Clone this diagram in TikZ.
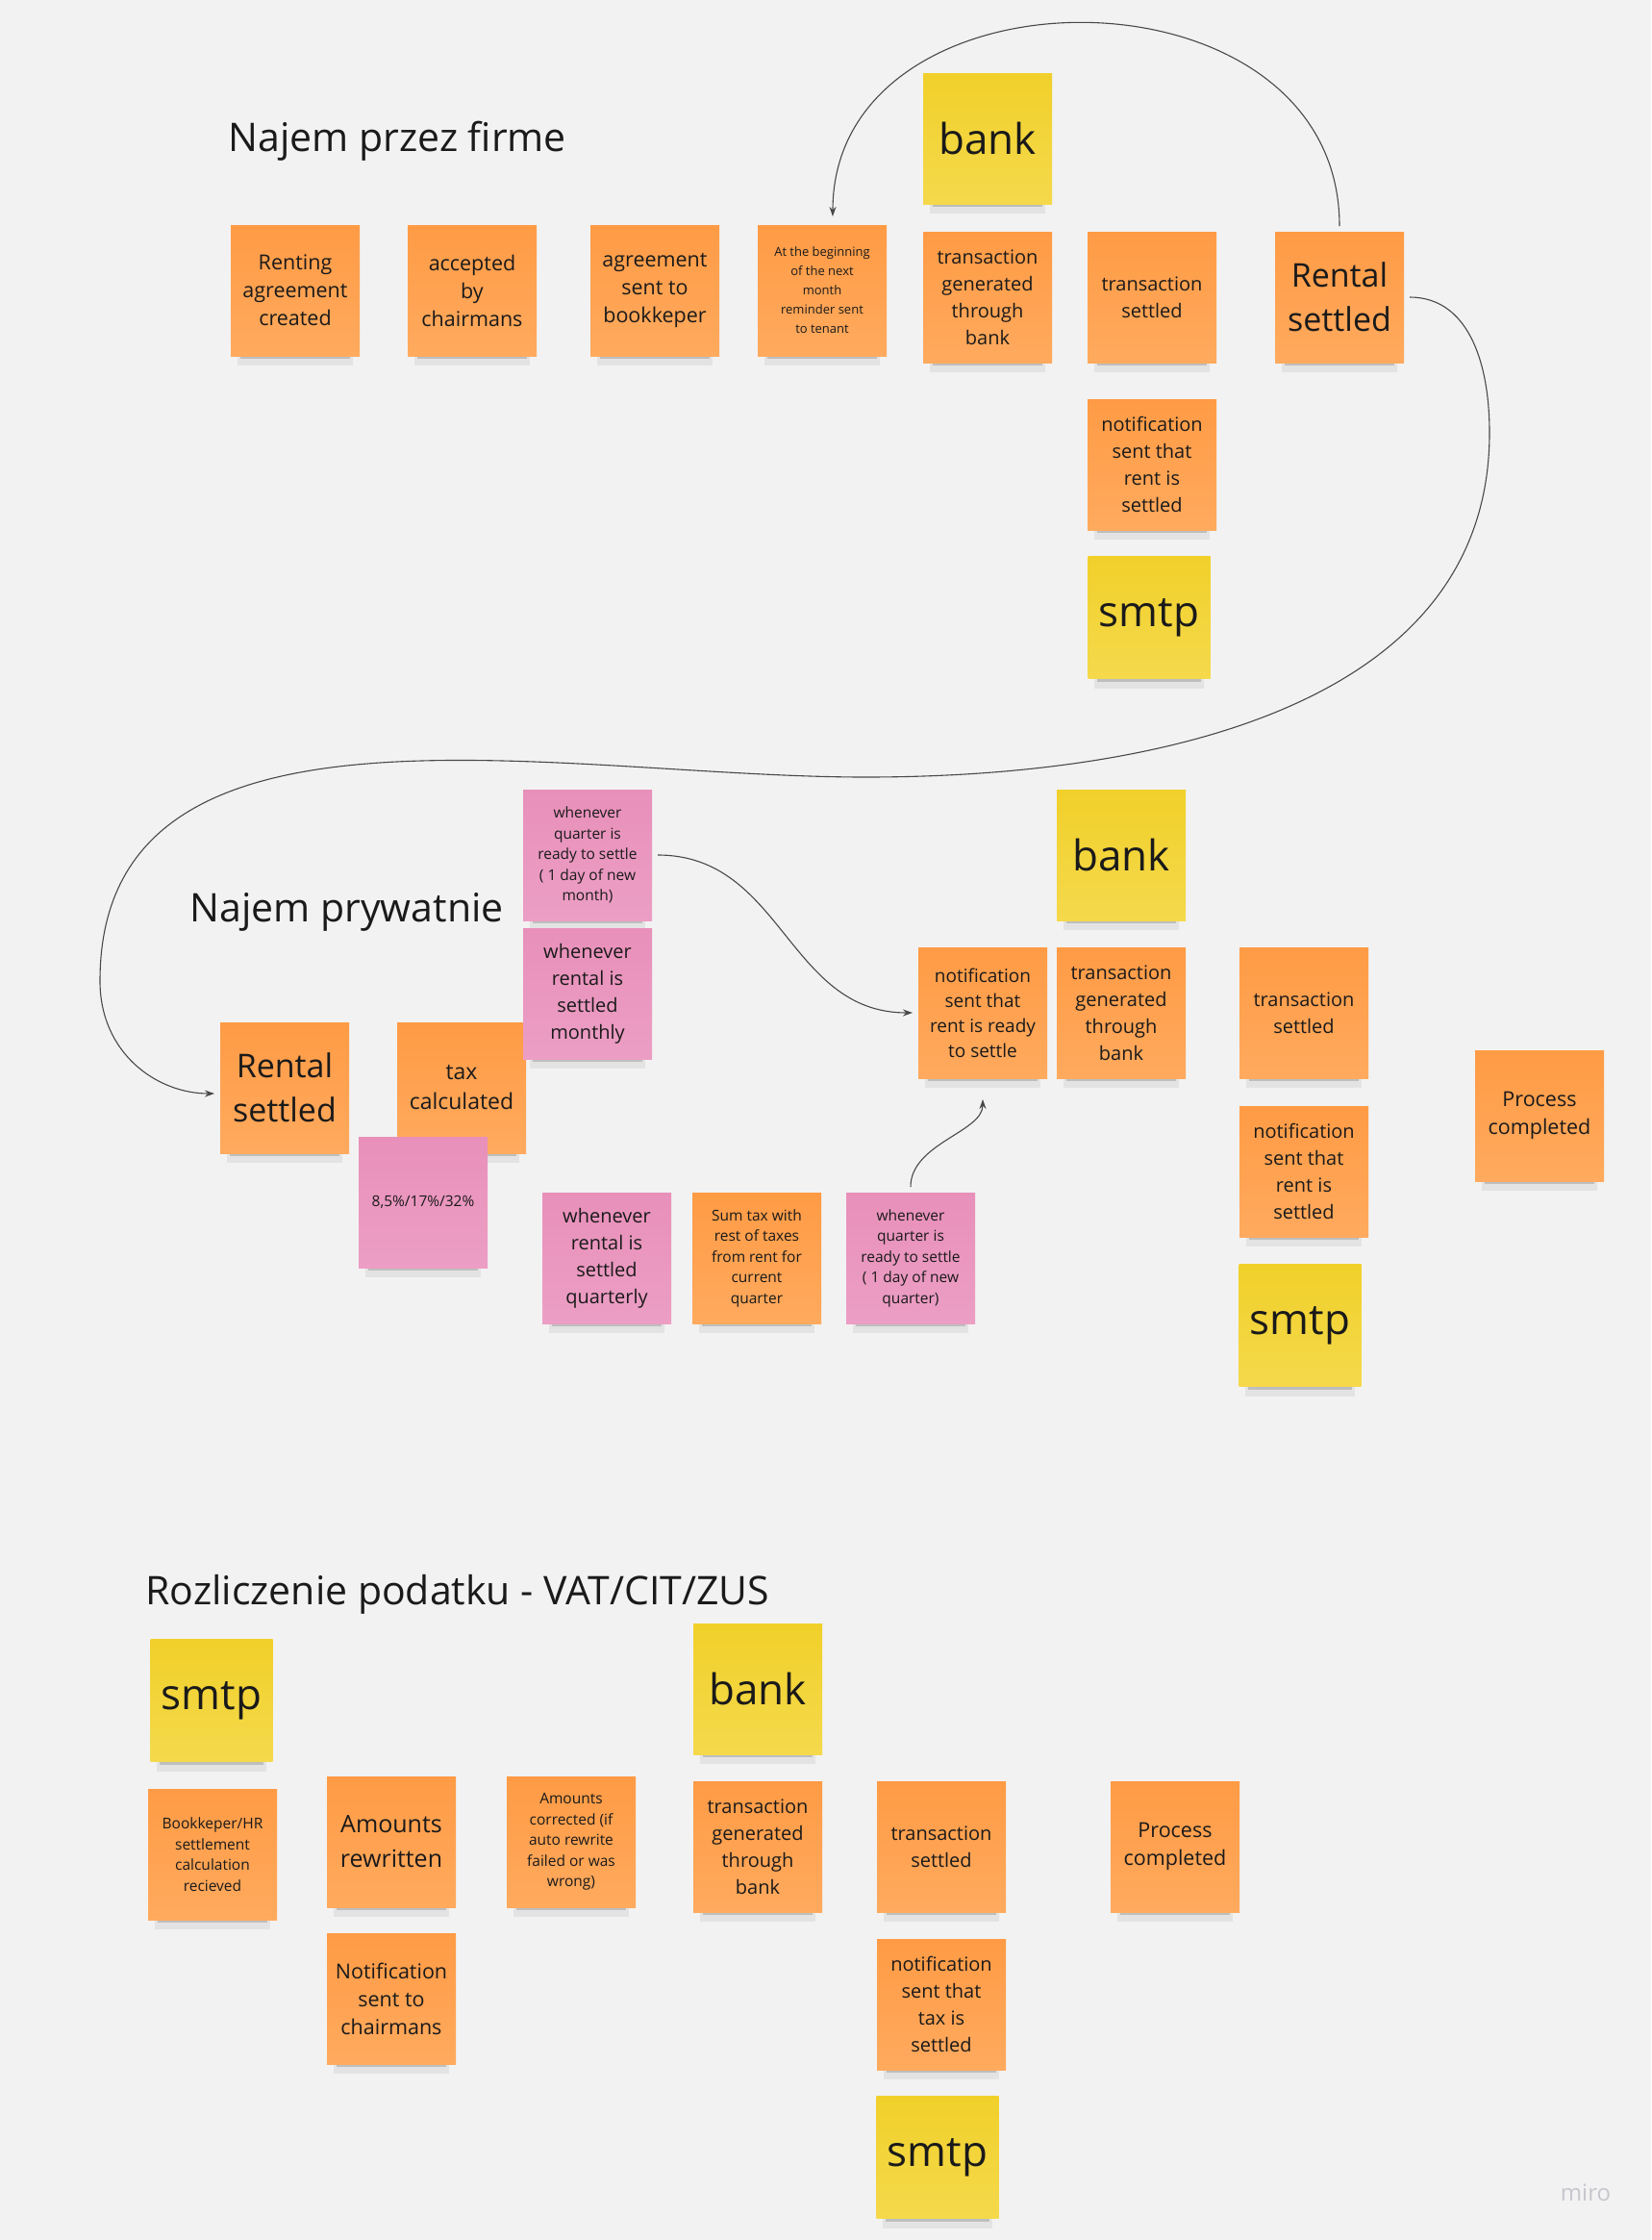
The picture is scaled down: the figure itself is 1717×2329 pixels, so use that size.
\documentclass[tikz,border=0pt]{standalone}
\usepackage{fontspec}
\setmainfont{Open Sans}
\usetikzlibrary{arrows.meta, shadows}
\definecolor{board}{HTML}{F2F2F2}
\definecolor{ink}{HTML}{1A1A1A}
\definecolor{orgtop}{HTML}{FF9B45}
\definecolor{orgbot}{HTML}{FFAA5E}
\definecolor{yeltop}{HTML}{F1D02A}
\definecolor{yelbot}{HTML}{F5D94C}
\definecolor{pnktop}{HTML}{E890BA}
\definecolor{pnkbot}{HTML}{EC9EC4}
\definecolor{wmark}{HTML}{C6C6CC}

\begin{document}
\begin{tikzpicture}[x=1pt, y=-1pt,
    note/.style={minimum width=134pt, minimum height=136pt, inner sep=0pt,
                 outer sep=6pt, align=center, text=ink,
                 font=\fontsize{20}{28}\selectfont,
                 general shadow={fill=black, opacity=.06, shadow scale=.9, shadow yshift=-19pt},
                 general shadow={fill=black, opacity=.16, shadow scale=.85, shadow yshift=-15pt}},
    orng/.style={note, top color=orgtop, bottom color=orgbot},
    yell/.style={note, top color=yeltop, bottom color=yelbot,
                 font=\fontsize{44}{50}\selectfont},
    pnk/.style={note, top color=pnktop, bottom color=pnkbot},
    sq/.style={minimum width=127pt, minimum height=127pt},
    fbig/.style={font=\fontsize{34}{46}\selectfont},
    famt/.style={font=\fontsize{25}{36}\selectfont},
    ftax/.style={font=\fontsize{23}{31}\selectfont},
    fmid/.style={font=\fontsize{21.5}{29}\selectfont},
    fnot/.style={font=\fontsize{19}{26}\selectfont},
    fsmall/.style={font=\fontsize{15.5}{21.5}\selectfont},
    ftiny/.style={font=\fontsize{13}{20}\selectfont},
    title/.style={anchor=base west, text=ink, font=\fontsize{41}{48}\selectfont},
    arr/.style={-{Stealth[length=10pt, width=7pt]}, line width=1.1pt, ink!80}
  ]
    \useasboundingbox (0,0) rectangle (1717,2329);
    \fill[board] (0,0) rectangle (1717,2329);

    % Najem przez firme
    \node[title] (t1) at (234, 157) {Najem przez firme};
    \node[orng, fmid] (rent) at (307, 302) {Renting\\agreement\\created};
    \node[orng, fmid] (accept) at (491, 302) {accepted\\by\\chairmans};
    \node[orng, fmid] (tobook) at (681, 302) {agreement\\sent to\\bookkeper};
    \node[orng, ftiny] (remind) at (855, 302)
      {At the beginning\\of the next\\month\\reminder sent\\to tenant};
    \node[yell] (bank1) at (1027, 144) {bank};
    \node[orng] (trgen1) at (1027, 309) {transaction\\generated\\through\\bank};
    \node[orng] (trset1) at (1198, 309) {transaction\\settled};
    \node[orng, fbig] (rental1) at (1393, 309) {Rental\\settled};
    \node[orng] (notif1) at (1198, 483) {notification\\sent that\\rent is\\settled};
    \node[yell, sq] (smtp1) at (1195, 642) {smtp};

    \draw[arr, shorten >=3pt] (rental1.north) .. controls +(0,-280) and +(0,-272)
      .. ([xshift=11pt]remind.north);

    % Najem prywatnie
    \node[title] (t2) at (194, 958) {Najem prywatnie};
    \node[orng, fbig] (rental2) at (296, 1131) {Rental\\settled};
    \node[orng, ftax] (tax) at (480, 1131) {tax\\calculated};
    \node[pnk, fsmall] (pinkq1) at (611, 889)
      {whenever\\quarter is\\ready to settle\\( 1 day of new\\month)};
    \node[pnk] (pinkm) at (611, 1033) {whenever\\rental is\\settled\\monthly};
    \node[pnk, fsmall] (pct) at (440, 1250) {8,5\%/17\%/32\%};
    \node[pnk] (pinkqt) at (631, 1308) {whenever\\rental is\\settled\\quarterly};
    \node[orng, fsmall] (sumtax) at (787, 1308)
      {Sum tax with\\rest of taxes\\from rent for\\current\\quarter};
    \node[pnk, fsmall] (pinkq2) at (947, 1308)
      {whenever\\quarter is\\ready to settle\\( 1 day of new\\quarter)};
    \node[yell] (bank2) at (1166, 889) {bank};
    \node[orng, fnot] (notif2) at (1022, 1053)
      {notification\\sent that\\rent is ready\\to settle};
    \node[orng] (trgen2) at (1166, 1053) {transaction\\generated\\through\\bank};
    \node[orng] (trset2) at (1356, 1053) {transaction\\settled};
    \node[orng] (notif2b) at (1356, 1218) {notification\\sent that\\rent is\\settled};
    \node[yell, sq] (smtp2) at (1352, 1378) {smtp};
    \node[orng, fmid] (done2) at (1601, 1160) {Process\\completed};

    \coordinate (bendA) at (1549, 450);
    \coordinate (bendB) at (900, 808);
    \coordinate (bendC) at (104, 1020);
    \draw[arr] (rental1.east) .. controls +(60,0) and +(0,-75) .. (bendA)
      .. controls +(0,290) and +(290,0) .. (bendB)
      .. controls +(-320,0) and +(0,-320) .. (bendC)
      .. controls +(0,75) and +(-60,0) .. ([yshift=-6pt]rental2.west);
    \draw[arr] (pinkq1.east) .. controls +(130,0) and +(-130,0) .. (notif2.west);
    \draw[arr, shorten >=16pt] (pinkq2.north) .. controls +(0,-45) and +(0,50)
      .. (notif2.south);

    % Rozliczenie podatku
    \node[title] (t3) at (148, 1668) {Rozliczenie podatku - VAT/CIT/ZUS};
    \node[yell, sq] (smtp3) at (220, 1768) {smtp};
    \node[orng, fsmall] (book) at (221, 1928)
      {Bookkeper/HR\\settlement\\calculation\\recieved};
    \node[orng, famt] (amrew) at (407, 1915) {Amounts\\rewritten};
    \node[orng, fmid] (notch) at (407, 2078) {Notification\\sent to\\chairmans};
    \node[orng, fsmall] (amcor) at (594, 1915)
      {Amounts\\corrected (if\\auto rewrite\\failed or was\\wrong)};
    \node[yell] (bank3) at (788, 1756) {bank};
    \node[orng] (trgen3) at (788, 1920) {transaction\\generated\\through\\bank};
    \node[orng] (trset3) at (979, 1920) {transaction\\settled};
    \node[orng] (notif3) at (979, 2084) {notification\\sent that\\tax is\\settled};
    \node[yell, sq] (smtp3b) at (975, 2243) {smtp};
    \node[orng, fmid] (done3) at (1222, 1920) {Process\\completed};

    \node[text=wmark, font=\fontsize{24}{24}\selectfont] (logo) at (1649, 2280) {miro};
  \end{tikzpicture}
\end{document}
